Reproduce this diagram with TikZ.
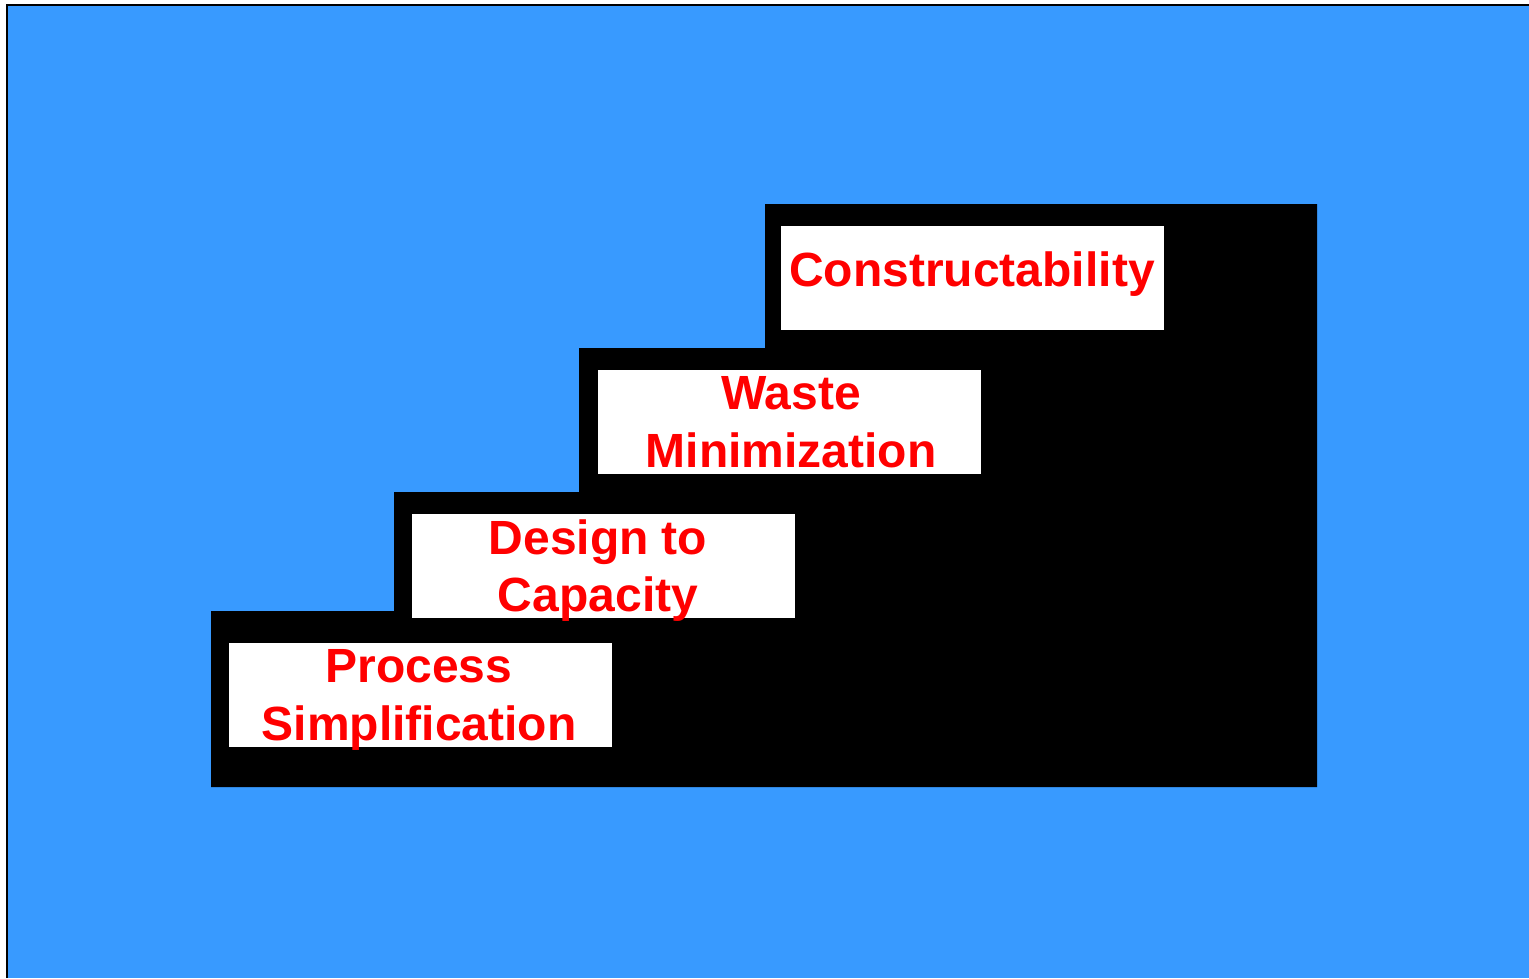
\documentclass[tikz,border=0pt]{standalone}
\usepackage{fontspec}
\setmainfont{Liberation Sans}
\definecolor{skyblue}{RGB}{56,154,255}
\definecolor{txtred}{RGB}{255,0,0}
\begin{document}
\begin{tikzpicture}[x=1pt,y=-1pt,
  stepbox/.style={fill=white,draw=none,inner sep=0pt,outer sep=0pt,minimum width=383pt,minimum height=104pt,anchor=north west},
  steplabel/.style={anchor=base,text=txtred,font=\fontsize{48}{58}\selectfont\bfseries,inner sep=0pt}]
\useasboundingbox (0,0) rectangle (1529,978);
\fill[white] (0,0) rectangle (1529,978);
\fill[skyblue] (7,5) rectangle (1529,978);
\draw[black,line width=2pt] (7,978) -- (7,5) -- (1529,5);
% staircase
\fill[black] (211,787) -- (211,611) -- (394,611) -- (394,492) -- (579,492) -- (579,348)
  -- (765,348) -- (765,204) -- (1317,204) -- (1317,787) -- cycle;
% boxes
\node[stepbox] (b1) at (229,643) {};
\node[stepbox] (b2) at (412,514) {};
\node[stepbox] (b3) at (598,370) {};
\node[stepbox] (b4) at (781,226) {};
% labels
\node[steplabel] (p1) at (419,682) {Process};
\node[steplabel] (p2) at (419,740) {Simplification};
\node[steplabel] (d1) at (598,554) {Design to};
\node[steplabel] (d2) at (598,611) {Capacity};
\node[steplabel] (w1) at (791,409) {Waste};
\node[steplabel] (w2) at (791,467) {Minimization};
\node[steplabel] (c1) at (972,286) {Constructability};
\end{tikzpicture}
\end{document}
